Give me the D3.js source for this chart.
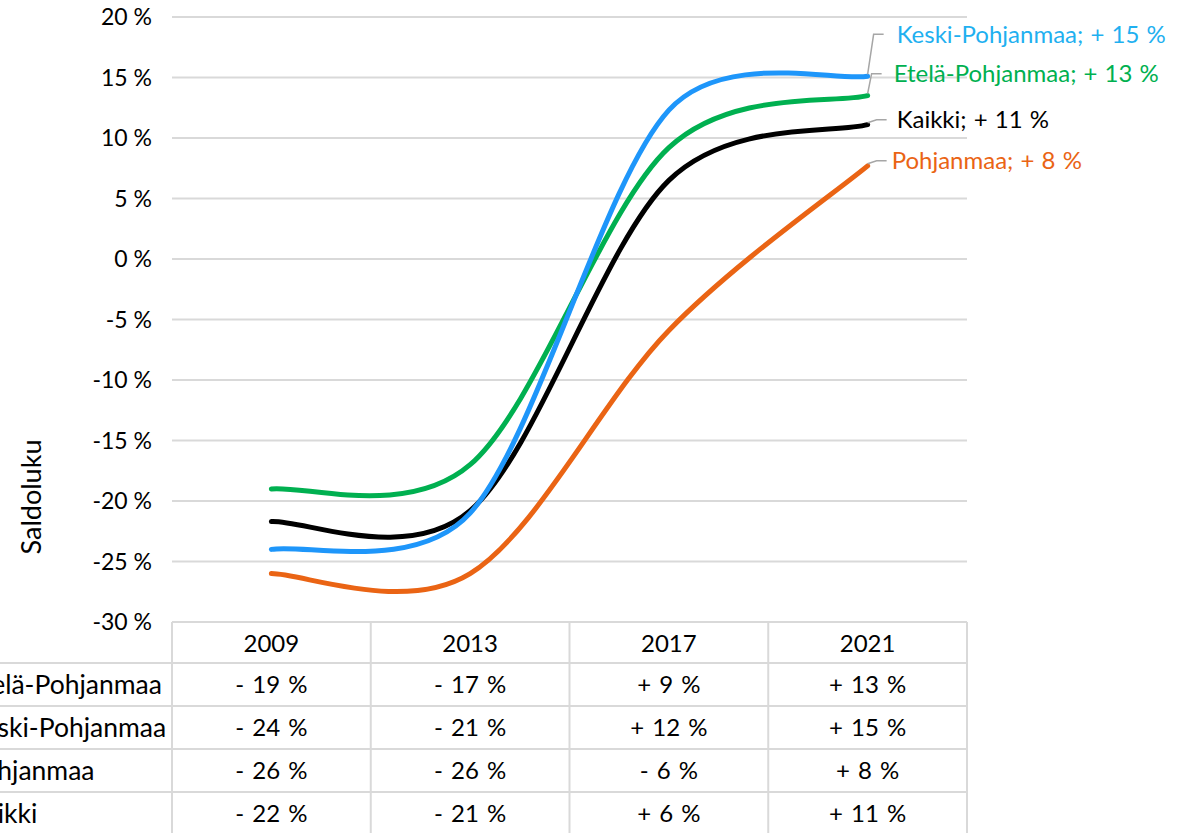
<!DOCTYPE html>
<html>
<head>
<meta charset="utf-8">
<script src="https://cdn.jsdelivr.net/npm/d3@7"></script>
<style>
  body { margin: 0; background: #fff; }
  svg { display: block; font-family: Lato, "Open Sans", sans-serif; }
</style>
</head>
<body>
<svg id="chart" width="1196" height="833"></svg>
<script>
// data
var years = ["2009", "2013", "2017", "2021"];
var seriesNames = ["Etelä-Pohjanmaa", "Keski-Pohjanmaa", "Pohjanmaa", "Kaikki"];
var eteläValues = [-19, -17, 9.2, 13.5];
var keskiValues = [-24, -21, 12.3, 15.1];
var pohjanmaaValues = [-26, -26, -5.9, 7.7];
var kaikkiValues = [-21.7, -20.8, 6.5, 11.1];
var eteläTable = ["- 19 %", "- 17 %", "+ 9 %", "+ 13 %"];
var keskiTable = ["- 24 %", "- 21 %", "+ 12 %", "+ 15 %"];
var pohjanmaaTable = ["- 26 %", "- 26 %", "- 6 %", "+ 8 %"];
var kaikkiTable = ["- 22 %", "- 21 %", "+ 6 %", "+ 11 %"];
var endLabels = ["Etelä-Pohjanmaa; + 13 %", "Keski-Pohjanmaa; + 15 %", "Pohjanmaa; + 8 %", "Kaikki; + 11 %"];
var yTicks = [20, 15, 10, 5, 0, -5, -10, -15, -20, -25, -30];

var lineColors = ["#00b050", "#1e96fa", "#ea6414", "#000000"];
var labelColors = ["#00b050", "#1fb0f0", "#ea6414", "#000000"];

var series = seriesNames.map(function(name, i) {
  return {
    name: name,
    values: [eteläValues, keskiValues, pohjanmaaValues, kaikkiValues][i],
    table: [eteläTable, keskiTable, pohjanmaaTable, kaikkiTable][i],
    label: endLabels[i],
    line: lineColors[i],
    text: labelColors[i]
  };
});

var svg = d3.select("#chart");
var plotL = 172, plotR = 967, plotT = 17, plotB = 622;

var x = d3.scaleBand().domain(years).range([plotL, plotR]);
var y = d3.scaleLinear().domain([-30, 20]).range([plotB, plotT]);
var cx = function(yr) { return x(yr) + x.bandwidth() / 2; };

// spreadsheet-style smoothing: bezier arms capped at half the segment
function smoothPath(pts) {
  var sx = 1.45;
  var dist = function(a, b) { return Math.hypot((a[0] - b[0]) / sx, a[1] - b[1]); };
  var p = d3.path(), n = pts.length;
  p.moveTo(pts[0][0], pts[0][1]);
  for (var i = 0; i < n - 1; i++) {
    var p0 = pts[Math.max(i - 1, 0)], p1 = pts[i], p2 = pts[i + 1], p3 = pts[Math.min(i + 2, n - 1)];
    var d02 = dist(p0, p2), d12 = dist(p1, p2), d13 = dist(p1, p3);
    var f0 = d02 / 6 < d12 / 2 ? 1 / 6 : d12 / (2 * d02);
    var f1 = d13 / 6 < d12 / 2 ? 1 / 6 : d12 / (2 * d13);
    p.bezierCurveTo(
      p1[0] + (p2[0] - p0[0]) * f0, p1[1] + (p2[1] - p0[1]) * f0,
      p2[0] - (p3[0] - p1[0]) * f1, p2[1] - (p3[1] - p1[1]) * f1,
      p2[0], p2[1]);
  }
  return p.toString();
}

// gridlines
svg.append("g").selectAll("line")
  .data(yTicks.filter(function(t) { return t > -30; }))
  .join("line")
  .attr("x1", plotL).attr("x2", plotR)
  .attr("y1", function(d) { return y(d); }).attr("y2", function(d) { return y(d); })
  .attr("stroke", "#d9d9d9").attr("stroke-width", 2);

// y axis labels
svg.append("g").selectAll("text")
  .data(yTicks)
  .join("text")
  .attr("x", 152)
  .attr("y", function(d) { return y(d); })
  .attr("dy", "0.35em")
  .attr("text-anchor", "end")
  .attr("font-size", 23)
  .attr("fill", "#000")
  .text(function(d) { return d + " %"; });

svg.append("text")
  .attr("transform", "translate(41,497) rotate(-90)")
  .attr("text-anchor", "middle")
  .attr("font-size", 27)
  .text("Saldoluku");

// lines
var drawOrder = [2, 3, 0, 1];
svg.append("g").selectAll("path")
  .data(drawOrder.map(function(i) { return series[i]; }))
  .join("path")
  .attr("fill", "none")
  .attr("stroke", function(d) { return d.line; })
  .attr("stroke-width", 5)
  .attr("stroke-linecap", "round")
  .attr("d", function(d) {
    return smoothPath(d.values.map(function(v, i) { return [cx(years[i]), y(v)]; }));
  });

// end labels with leader lines
var labelShift = [
  { dy: -22, dx: 26 },
  { dy: -42, dx: 29 },
  { dy: -5, dx: 24 },
  { dy: -5, dx: 29 }
];
var lastYear = years[years.length - 1];
series.forEach(function(s, i) {
  var px = cx(lastYear), py = y(s.values[s.values.length - 1]);
  var ly = py + labelShift[i].dy;
  var knee = px + (i == 1 ? 6 : i == 0 ? 4 : 9);
  svg.append("path")
    .attr("fill", "none")
    .attr("stroke", "#a6a6a6")
    .attr("stroke-width", 1.5)
    .attr("d", "M" + px + "," + (py - 2) + "L" + knee + "," + ly + "L" + (knee + 10) + "," + ly);
  svg.append("text")
    .attr("x", px + labelShift[i].dx)
    .attr("y", ly)
    .attr("dy", "0.35em")
    .attr("font-size", 24)
    .attr("word-spacing", 1)
    .attr("fill", s.text)
    .text(s.label);
});

// data table
var rowH = 43, headH = 41;
var tbl = svg.append("g");
var rowTop = function(r) { return plotB + headH + r * rowH; };

tbl.selectAll("text.year")
  .data(years)
  .join("text")
  .attr("class", "year")
  .attr("x", function(d) { return cx(d); })
  .attr("y", plotB + headH / 2 + 1)
  .attr("dy", "0.35em")
  .attr("text-anchor", "middle")
  .attr("font-size", 24)
  .text(function(d) { return d; });

series.forEach(function(s, r) {
  tbl.append("text")
    .attr("x", -33)
    .attr("y", rowTop(r) + rowH / 2)
    .attr("dy", "0.35em")
    .attr("font-size", 26.5)
    .text(s.name);
  tbl.selectAll("text.v" + r)
    .data(s.table)
    .join("text")
    .attr("class", "v" + r)
    .attr("x", function(d, i) { return cx(years[i]); })
    .attr("y", rowTop(r) + rowH / 2)
    .attr("dy", "0.35em")
    .attr("text-anchor", "middle")
    .attr("font-size", 24)
    .attr("word-spacing", 2)
    .text(function(d) { return d; });
});

var gridColor = "#d9d9d9";
tbl.append("line")
  .attr("x1", plotL).attr("x2", plotR).attr("y1", plotB).attr("y2", plotB)
  .attr("stroke", gridColor).attr("stroke-width", 2);
d3.range(series.length).forEach(function(r) {
  tbl.append("line")
    .attr("x1", 0).attr("x2", plotR).attr("y1", rowTop(r)).attr("y2", rowTop(r))
    .attr("stroke", gridColor).attr("stroke-width", 2);
});
years.concat(["end"]).forEach(function(yr, i) {
  var xx = i < years.length ? x(yr) : plotR;
  tbl.append("line")
    .attr("x1", xx).attr("x2", xx).attr("y1", plotB).attr("y2", 833)
    .attr("stroke", gridColor).attr("stroke-width", 2);
});
</script>
</body>
</html>
